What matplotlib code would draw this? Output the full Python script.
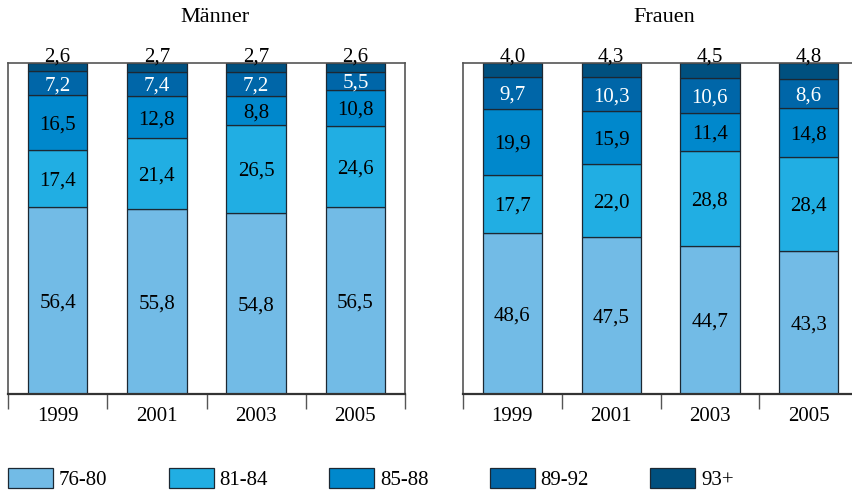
import matplotlib
matplotlib.use("Agg")
import matplotlib.pyplot as plt
from matplotlib.patches import Patch
import numpy as np

plt.rcParams['font.family'] = ['Liberation Serif', 'DejaVu Serif']

years = ["1999", "2001", "2003", "2005"]
groups = ["76-80", "81-84", "85-88", "89-92", "93+"]
colors = ["#72bbe6", "#21aee3", "#0088cc", "#0066a8", "#00507f"]
text_colors = ["black", "black", "black", "white", "black"]

maenner = {
    "76-80": [56.4, 55.8, 54.8, 56.5],
    "81-84": [17.4, 21.4, 26.5, 24.6],
    "85-88": [16.5, 12.8, 8.8, 10.8],
    "89-92": [7.2, 7.4, 7.2, 5.5],
    "93+":   [2.6, 2.7, 2.7, 2.6],
}
frauen = {
    "76-80": [48.6, 47.5, 44.7, 43.3],
    "81-84": [17.7, 22.0, 28.8, 28.4],
    "85-88": [19.9, 15.9, 11.4, 14.8],
    "89-92": [9.7, 10.3, 10.6, 8.6],
    "93+":   [4.0, 4.3, 4.5, 4.8],
}

W, H = 852, 490
fig = plt.figure(figsize=(W / 100, H / 100), dpi=100)

FS = 15
frame_col = "#555555"


def fmt(v):
    return f"{v:.1f}".replace(".", ",")


def draw(ax, data):
    x = np.arange(len(years))
    bottom = np.zeros(len(years))
    for g, c, tc in zip(groups, colors, text_colors):
        vals = np.array(data[g])
        ax.bar(x, vals, bottom=bottom, width=0.6, color=c,
               edgecolor="#1c2833", linewidth=0.9, zorder=2)
        for xi, b, v in zip(x, bottom, vals):
            if g == "93+":
                ax.text(xi, 100.35, fmt(v), ha="center", va="baseline",
                        fontsize=FS, color="black", clip_on=False, zorder=5)
            else:
                ax.text(xi, b + v / 2, fmt(v), ha="center", va="center_baseline",
                        fontsize=FS, color=tc, zorder=5)
        bottom = bottom + vals
    ax.set_xlim(-0.5, 3.5)
    ax.set_ylim(0, 100)
    ax.set_yticks([])
    ax.set_xticks(x)
    ax.set_xticklabels(years, fontsize=FS)
    ax.set_xticks(np.arange(-0.5, 4.0, 1.0), minor=True)
    ax.tick_params(axis="x", which="major", length=0, pad=9)
    ax.tick_params(axis="x", which="minor", length=11, width=1.0,
                   color=frame_col, direction="out")
    for s in ax.spines.values():
        s.set_color(frame_col)
        s.set_linewidth(1.2)
    ax.spines["bottom"].set_color("#333333")
    ax.spines["bottom"].set_linewidth(1.6)


ax1 = fig.add_axes([8 / W, 96 / H, 397 / W, 331 / H])
ax2 = fig.add_axes([463 / W, 96 / H, 395 / W, 331 / H])
draw(ax1, maenner)
draw(ax2, frauen)

fig.text(215 / W, 1 - 18 / H, "Männer", ha="center", va="center", fontsize=16)
fig.text(664 / W, 1 - 18 / H, "Frauen", ha="center", va="center", fontsize=16)

handles = [Patch(facecolor=c, edgecolor="#1c2833", linewidth=0.9) for c in colors]
fs_px = FS * 100 / 72
fig.legend(handles, groups, loc="lower left", bbox_to_anchor=(8 / W, 0.0),
           ncol=5, frameon=False, fontsize=FS, borderpad=0, borderaxespad=0,
           handlelength=45 / fs_px, handleheight=22 / fs_px,
           handletextpad=6 / fs_px, columnspacing=61 / fs_px)

fig.savefig("out.png", dpi=100)
